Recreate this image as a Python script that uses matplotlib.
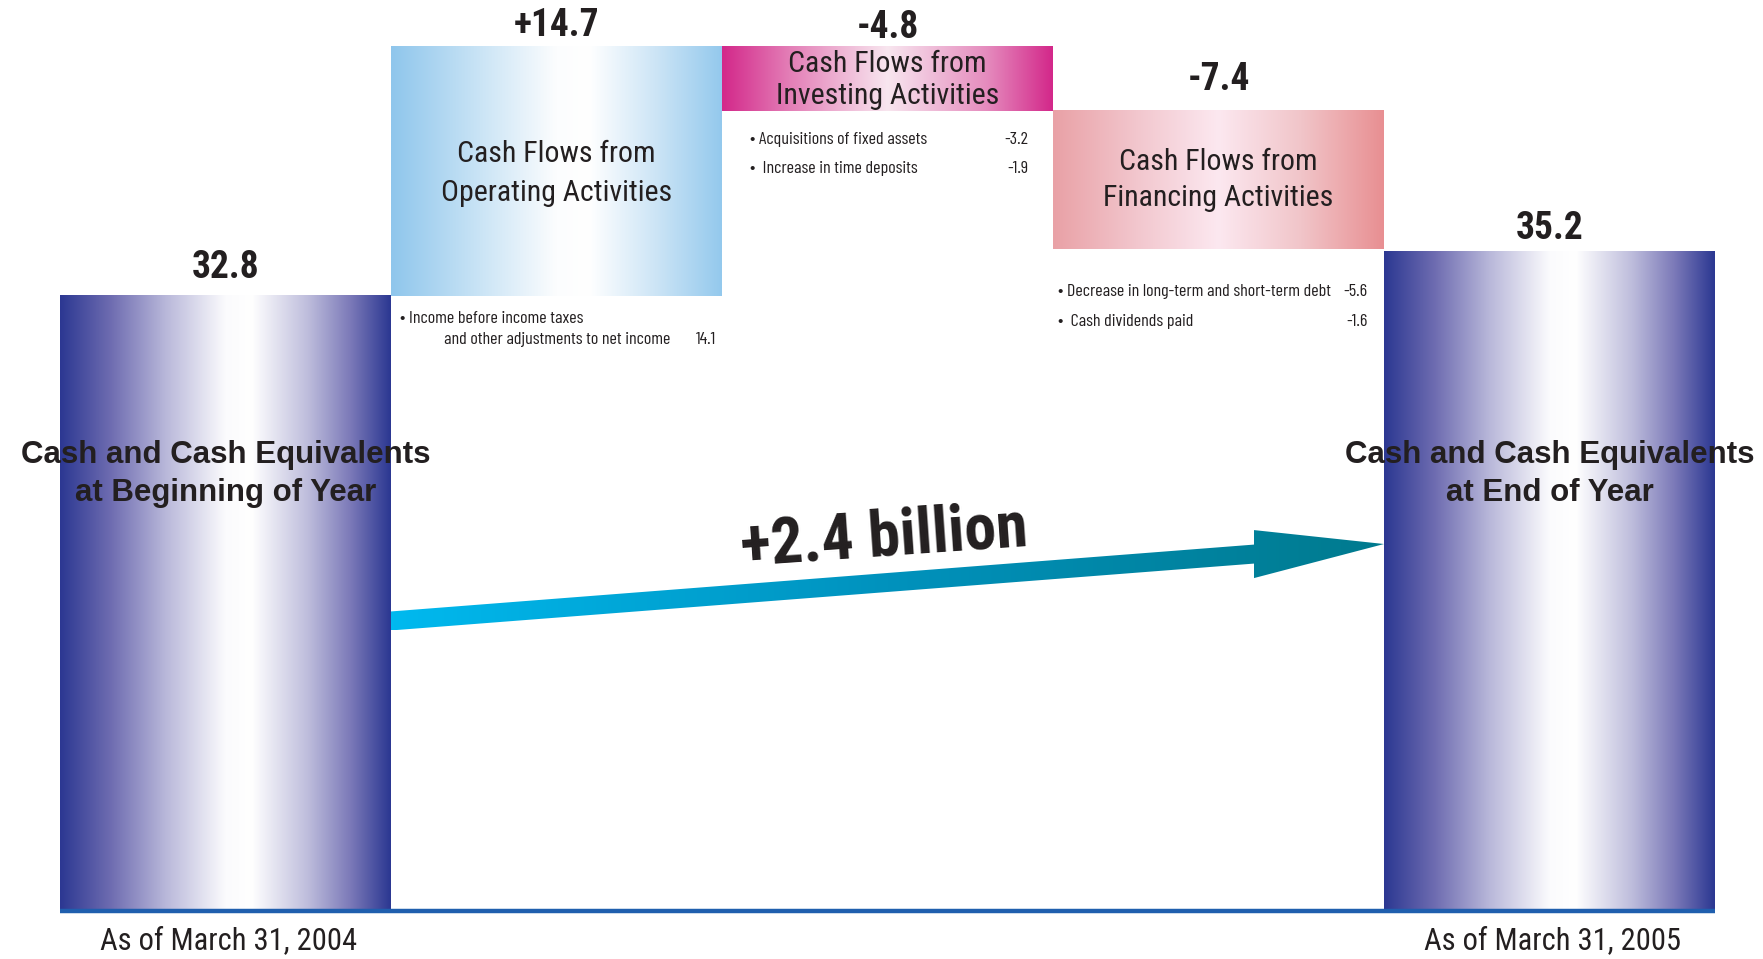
import matplotlib.pyplot as plt
import numpy as np
from matplotlib.colors import LinearSegmentedColormap
from matplotlib.patches import Polygon

plt.rcParams['font.family'] = ['Roboto Condensed', 'DejaVu Sans']
small_font = ['Barlow Condensed', 'DejaVu Sans']
wide_bold = ['Liberation Sans', 'DejaVu Sans']
ink = '#231f20'

# cash position, billions of yen
start_cash = 32.8
flows = [14.7, -4.8, -7.4]
end_cash = 35.2
change_label = '+2.4 billion'

value_labels = ['32.8', '+14.7', '-4.8', '-7.4', '35.2']
box_titles = ['Cash and Cash Equivalents\nat Beginning of Year',
              'Cash Flows from\nOperating Activities',
              'Cash Flows from\nInvesting Activities',
              'Cash Flows from\nFinancing Activities',
              'Cash and Cash Equivalents\nat End of Year']
date_labels = ['As of March 31, 2004', 'As of March 31, 2005']

inv_items = ['Acquisitions of fixed assets', ' Increase in time deposits']
inv_values = ['-3.2', '-1.9']
fin_items = ['Decrease in long-term and short-term debt', ' Cash dividends paid']
fin_values = ['-5.6', '-1.6']
op_items = ['Income before income taxes', 'and other adjustments to net income']
op_values = ['14.1']

box_cap = 46.15  # boxes are cut off here in the drawing

# waterfall geometry
x = np.arange(5)
bottoms = [0]
heights = [start_cash]
level = start_cash
for f in flows:
    lo, hi = sorted([level, level + f])
    bottoms.append(lo)
    heights.append(min(hi, box_cap) - lo)
    level += f
bottoms.append(0)
heights.append(end_cash)

fig = plt.figure(figsize=(17.63, 9.59), dpi=100)
ax = fig.add_axes([0, 0, 1, 1])
xlim = (-0.6813, 4.645)
ylim = (-2.618, 48.61)
ax.set_xlim(xlim)
ax.set_ylim(ylim)
ax.axis('off')

navy = LinearSegmentedColormap.from_list('navy', [
    (0, '#2c3892'), (0.15, '#6d6bb0'), (0.32, '#b9b8da'), (0.5, '#fbfbfd'),
    (0.58, '#ffffff'), (0.75, '#bebddc'), (0.88, '#7b79b8'), (1, '#2c3892')])
sky = LinearSegmentedColormap.from_list('sky', [
    (0, '#8fc6ec'), (0.25, '#c6e2f5'), (0.5, '#fcfdfe'), (0.6, '#ffffff'),
    (0.8, '#cde5f6'), (1, '#94c9ed')])
magenta = LinearSegmentedColormap.from_list('magenta', [
    (0, '#d3288a'), (0.2, '#e37db6'), (0.5, '#f8e6ef'), (0.8, '#e58cbe'),
    (1, '#d3288a')])
salmon = LinearSegmentedColormap.from_list('salmon', [
    (0, '#e9a1a6'), (0.25, '#f2c6cd'), (0.5, '#fce8f0'), (0.75, '#f1c5c9'),
    (1, '#e88f92')])
cmaps = [navy, sky, magenta, salmon, navy]

bars = ax.bar(x, heights, bottom=bottoms, width=1.0, color='none', zorder=1)
grad = np.linspace(0, 1, 512).reshape(1, -1)
for b, cm in zip(bars, cmaps):
    x0, y0, w, h = b.get_x(), b.get_y(), b.get_width(), b.get_height()
    ax.imshow(grad, cmap=cm, extent=(x0, x0 + w, y0, y0 + h), aspect='auto',
              interpolation='bilinear', zorder=1)

# baseline
ax.plot([-0.5, 4.5], [-0.05, -0.05], color='#1f5fae', lw=3.2, zorder=3,
        solid_capstyle='butt')

# value labels above each box
label_gap = [13, 7.5, 6, 15, 9]
for b, lab, gap in zip(bars, value_labels, label_gap):
    ax.annotate(lab, (b.get_x() + b.get_width() / 2, b.get_y() + b.get_height()),
                xytext=(0, gap), textcoords='offset points', ha='center', va='baseline',
                fontsize=27, fontweight='bold', color=ink, zorder=5)

# titles inside boxes
title_spacing = [1.35, 1.5, 1.2, 1.4, 1.35]
title_shift = [0, -2, -1, 0, 0]
for i, t in enumerate(box_titles):
    b = bars[i]
    cx = b.get_x() + b.get_width() / 2
    if i in (0, 4):
        ax.text(cx, 23.3, t, ha='center', va='center', fontsize=22.5,
                fontweight='bold', family=wide_bold, color=ink,
                linespacing=title_spacing[i], zorder=5)
    else:
        ax.annotate(t, (cx, b.get_y() + b.get_height() / 2), xytext=(0, title_shift[i]),
                    textcoords='offset points', ha='center', va='center',
                    fontsize=21.5, color=ink, linespacing=title_spacing[i], zorder=5)

# detail items below the flow boxes
item_style = dict(textcoords='offset points', va='center', fontsize=13,
                  family=small_font, color=ink)

def item_rows(bar, items, values, dx_left, dx_right, offsets):
    left = bar.get_x()
    right = left + bar.get_width()
    y = bar.get_y()
    for k, txt in enumerate(items):
        ax.annotate('\u2022 ' + txt, (left, y), xytext=(dx_left, offsets[k]),
                    ha='left', **item_style)
        ax.annotate(values[k], (right, y), xytext=(dx_right, offsets[k]),
                    ha='right', **item_style)

item_rows(bars[2], inv_items, inv_values, 20, -18, [-21, -42])
item_rows(bars[3], fin_items, fin_values, 3.5, -12, [-30.5, -52])

b = bars[1]
ax.annotate('\u2022 ' + op_items[0], (b.get_x(), b.get_y()), xytext=(6.5, -16),
            ha='left', **item_style)
ax.annotate(op_items[1], (b.get_x(), b.get_y()), xytext=(38, -31),
            ha='left', **item_style)
ax.annotate(op_values[0], (b.get_x() + b.get_width(), b.get_y()), xytext=(-4.5, -31),
            ha='right', **item_style)

# dates under the balance bars
for i, lab in zip([0, 4], date_labels):
    ax.annotate(lab, (x[i], 0), xytext=(2, -22), textcoords='offset points',
                ha='center', va='center', fontsize=22, color=ink)

# arrow from beginning to end balance
tail = ax.transData.transform((bars[0].get_x() + 1.0, 15.44))
tip = ax.transData.transform((bars[4].get_x(), 19.55))
slope = (tip[1] - tail[1]) / (tip[0] - tail[0])
xb = tip[0] - 130
yb = tail[1] + slope * (xb - tail[0])
t, H = 9.5, 24
pts = np.array([
    (tail[0], tail[1] + t), (xb, yb + t), (xb, yb + H), (tip[0], tip[1]),
    (xb, yb - H), (xb, yb - t), (tail[0], tail[1] - t)])
pts = ax.transData.inverted().transform(pts)
arrow = Polygon(pts, closed=True, facecolor='none', edgecolor='none')
ax.add_patch(arrow)
teal = LinearSegmentedColormap.from_list('teal', ['#00b9ef', '#0092bd', '#007a8e'])
ext = (pts[:, 0].min(), pts[:, 0].max(), pts[:, 1].min(), pts[:, 1].max())
im = ax.imshow(grad, cmap=teal, extent=ext, aspect='auto', interpolation='bilinear',
               zorder=4)
im.set_clip_path(arrow)

ax.text(1.99, 19.85, change_label, ha='center', va='center', rotation=4,
        rotation_mode='anchor', fontsize=46, fontweight='bold', color=ink,
        zorder=5)

ax.set_xlim(xlim)
ax.set_ylim(ylim)
fig.savefig('out.png', dpi=100)
